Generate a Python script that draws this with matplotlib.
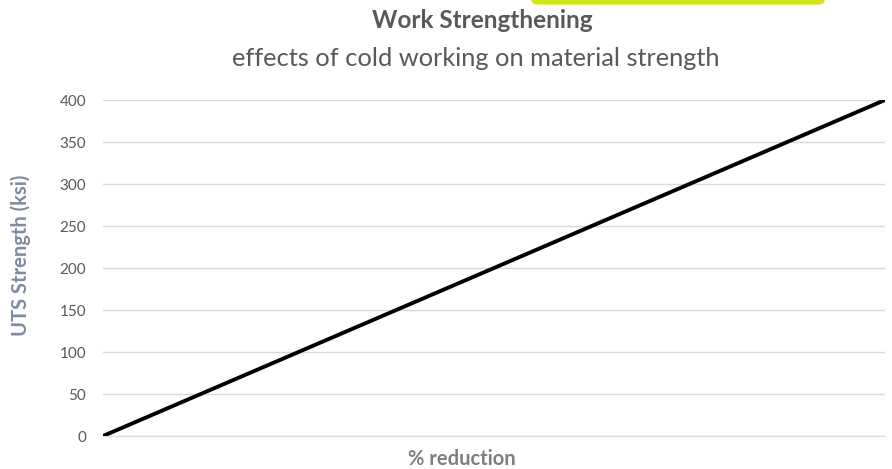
import matplotlib.pyplot as plt
from matplotlib.patches import FancyBboxPatch

reduction = [0, 100]
uts_strength = [0, 400]
y_ticks = [0, 50, 100, 150, 200, 250, 300, 350, 400]

plt.rcParams['font.family'] = ['Lato', 'DejaVu Sans']

fig = plt.figure(figsize=(8.92, 4.69), dpi=100)
ax = fig.add_axes([103 / 892, 1 - 436 / 469, 782 / 892, 336 / 469])

ax.plot(reduction, uts_strength, color='black', linewidth=2.8, solid_capstyle='round')
ax.set_xlim(0, 100)
ax.set_ylim(0, 400)
ax.set_yticks(y_ticks)
ax.set_xticks([])
ax.grid(axis='y', color='#d9d9d9', linewidth=1)
ax.set_axisbelow(True)
for side in ['top', 'right', 'left']:
    ax.spines[side].set_visible(False)
ax.spines['bottom'].set_color('#d9d9d9')
ax.tick_params(axis='y', length=0, labelsize=11, labelcolor='#595959', pad=12)
ax.set_xlabel('% reduction', fontsize=14.5, fontweight='bold', color='#7f7f7f')
ax.xaxis.set_label_coords((462 - 103) / 782, -13 / 336)
ax.set_ylabel('UTS Strength (ksi)', fontsize=14.5, fontweight='bold', color='#7f8ba0')
ax.yaxis.set_label_coords(-72 / 782, (436 - 255) / 336)

fig.text(482 / 892, 1 - 21 / 469, 'Work Strengthening', ha='center', va='center',
         fontsize=17.5, fontweight='bold', color='#595959')
fig.text(476 / 892, 1 - 59 / 469, 'effects of cold working on material strength', ha='center',
         va='center', fontsize=18.3, color='#595959')

# yellow highlight strip cut off at the top edge
fig.patches.append(FancyBboxPatch((532 / 892, 1 - 4 / 469), 292 / 892, 10 / 469,
                                  boxstyle='round,pad=0,rounding_size=0.008',
                                  transform=fig.transFigure, color='#d4e41c', clip_on=False))

fig.savefig('out.png', dpi=100)
